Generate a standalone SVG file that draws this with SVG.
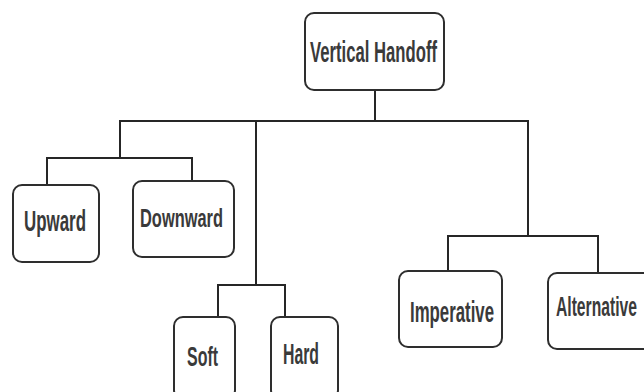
<svg xmlns="http://www.w3.org/2000/svg" width="644" height="392" viewBox="0 0 644 392">
  <style>
    .box { fill: #ffffff; stroke: #2e2e2e; stroke-width: 2; }
    .wire { fill: none; stroke: #262626; stroke-width: 2; stroke-linecap: square; }
    .label { font-family: "Liberation Sans", Arial, sans-serif; font-weight: bold; fill: #3a3a3a; }
  </style>
  <rect width="644" height="392" fill="#ffffff"/>

  <!-- connectors of the tree -->
  <g id="connectors">
    <path class="wire" d="M375 90 V121"/>
    <path class="wire" d="M120 121 H528"/>
    <path class="wire" d="M120 121 V158"/>
    <path class="wire" d="M47 158 H192"/>
    <path class="wire" d="M47 158 V185"/>
    <path class="wire" d="M192 158 V181"/>
    <path class="wire" d="M256 121 V285"/>
    <path class="wire" d="M218 285 H285"/>
    <path class="wire" d="M218 285 V317"/>
    <path class="wire" d="M285 285 V317"/>
    <path class="wire" d="M528 121 V236"/>
    <path class="wire" d="M448 236 H598"/>
    <path class="wire" d="M448 236 V271"/>
    <path class="wire" d="M598 236 V273"/>
  </g>

  <g id="vertical-handoff">
    <rect class="box" x="305" y="13" width="139" height="77" rx="9"/>
    <text class="label" x="310" y="62" font-size="30" textLength="127" lengthAdjust="spacingAndGlyphs">Vertical Handoff</text>
  </g>

  <g id="upward">
    <rect class="box" x="13" y="185" width="86" height="77" rx="9"/>
    <text class="label" x="24" y="231" font-size="29" textLength="62" lengthAdjust="spacingAndGlyphs">Upward</text>
  </g>

  <g id="downward">
    <rect class="box" x="133" y="181" width="101" height="76" rx="9"/>
    <text class="label" x="140" y="227" font-size="25" textLength="83" lengthAdjust="spacingAndGlyphs">Downward</text>
  </g>

  <g id="soft">
    <rect class="box" x="174" y="317" width="61" height="82" rx="9"/>
    <text class="label" x="187" y="366" font-size="27" textLength="31" lengthAdjust="spacingAndGlyphs">Soft</text>
  </g>

  <g id="hard">
    <rect class="box" x="271" y="317" width="67" height="82" rx="9"/>
    <text class="label" x="283" y="364" font-size="29" textLength="36" lengthAdjust="spacingAndGlyphs">Hard</text>
  </g>

  <g id="imperative">
    <rect class="box" x="399" y="271" width="103" height="76" rx="9"/>
    <text class="label" x="410" y="322" font-size="29" textLength="84" lengthAdjust="spacingAndGlyphs">Imperative</text>
  </g>

  <g id="alternative">
    <rect class="box" x="548" y="273" width="104" height="76" rx="9"/>
    <!-- condensed by scaling the text horizontally -->
    <text class="label" transform="translate(556 316) scale(0.58 1)" x="0" y="0" font-size="27">Alternative</text>
  </g>
</svg>
